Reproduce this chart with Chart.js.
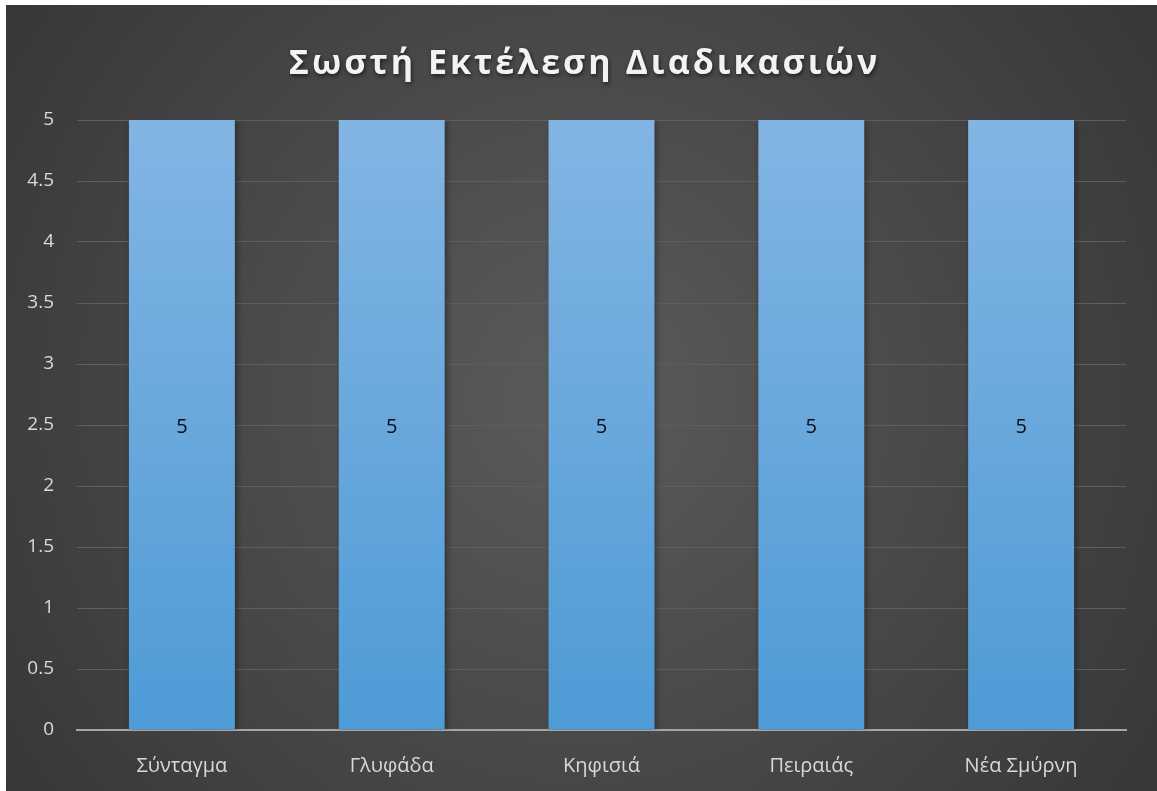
<!DOCTYPE html>
<html>
<head>
<meta charset="utf-8">
<script src="https://cdn.jsdelivr.net/npm/chart.js@4"></script>
<style>
  html, body { margin: 0; padding: 0; background: #ffffff; }
  #wrap { position: absolute; left: 6px; top: 5px; width: 1151px; height: 786px; }
</style>
</head>
<body>
<div id="wrap"><canvas id="procedures"></canvas></div>
<script>
const branches = ['Σύνταγμα', 'Γλυφάδα', 'Κηφισιά', 'Πειραιάς', 'Νέα Σμύρνη'];
const correctRuns = [5, 5, 5, 5, 5];
const chartTitle = 'Σωστή Εκτέλεση Διαδικασιών';

const FONT = '"Open Sans", "Noto Sans", sans-serif';

// dark panel with a soft light spot in the middle
const backdrop = {
  id: 'backdrop',
  beforeDraw(chart) {
    const { ctx, width, height } = chart;
    const g = ctx.createRadialGradient(width / 2, height / 2, 0, width / 2, height / 2, width * 0.62);
    g.addColorStop(0, '#5b5b5b');
    g.addColorStop(1, '#363636');
    ctx.save();
    ctx.fillStyle = g;
    ctx.fillRect(0, 0, width, height);
    ctx.restore();
  }
};

// spaced-out title with a drop shadow
const heading = {
  id: 'heading',
  afterDraw(chart) {
    const { ctx, width } = chart;
    ctx.save();
    ctx.font = 'bold 34px ' + FONT;
    ctx.letterSpacing = '3px';
    ctx.textAlign = 'center';
    ctx.textBaseline = 'middle';
    ctx.shadowColor = 'rgba(0,0,0,0.6)';
    ctx.shadowBlur = 4;
    ctx.shadowOffsetX = 1;
    ctx.shadowOffsetY = 2;
    ctx.fillStyle = '#f2f2f2';
    ctx.fillText(chartTitle, width / 2 + 3, 59);
    ctx.restore();
  }
};

// shadow behind the bars
const barShadow = {
  id: 'barShadow',
  beforeDatasetDraw(chart) {
    const ctx = chart.ctx;
    ctx.save();
    ctx.shadowColor = 'rgba(0,0,0,0.45)';
    ctx.shadowBlur = 7;
    ctx.shadowOffsetX = 2;
    ctx.shadowOffsetY = 1;
  },
  afterDatasetDraw(chart) {
    chart.ctx.restore();
  }
};

// value printed in the middle of each bar
const valueLabels = {
  id: 'valueLabels',
  afterDatasetsDraw(chart) {
    const { ctx } = chart;
    const yScale = chart.scales.y;
    const meta = chart.getDatasetMeta(0);
    ctx.save();
    ctx.font = '20px ' + FONT;
    ctx.fillStyle = '#0d0d0d';
    ctx.textAlign = 'center';
    ctx.textBaseline = 'middle';
    meta.data.forEach((bar, i) => {
      const v = correctRuns[i];
      const mid = yScale.getPixelForValue(v / 2);
      ctx.fillText(String(v), bar.x, mid + 2);
    });
    ctx.restore();
  }
};

function barFill(context) {
  const area = context.chart.chartArea;
  if (!area) return '#5b9bd5';
  const g = context.chart.ctx.createLinearGradient(0, area.top, 0, area.bottom);
  g.addColorStop(0, '#83b5e4');
  g.addColorStop(1, '#4e9bd6');
  return g;
}

new Chart(document.getElementById('procedures'), {
  type: 'bar',
  data: {
    labels: branches,
    datasets: [{
      data: correctRuns,
      backgroundColor: barFill,
      borderWidth: 0,
      categoryPercentage: 1,
      barPercentage: 0.505
    }]
  },
  options: {
    responsive: true,
    maintainAspectRatio: false,
    animation: false,
    layout: { padding: { left: 0, right: 31, top: 115, bottom: 0 } },
    plugins: {
      legend: { display: false },
      tooltip: { enabled: false }
    },
    scales: {
      x: {
        afterFit(scale) { scale.height = 61; },
        grid: { display: false, drawTicks: false },
        border: { color: '#a6a6a6', width: 2 },
        ticks: { color: '#d9d9d9', font: { family: FONT, size: 20 }, padding: 24 }
      },
      y: {
        min: 0,
        max: 5,
        afterFit(scale) { scale.width = 71; },
        grid: { color: '#5e5e5e', lineWidth: 1, drawTicks: false },
        border: { display: false },
        ticks: {
          stepSize: 0.5,
          color: '#d9d9d9',
          font: { family: FONT, size: 19 },
          padding: 23,
          callback: (v) => String(v)
        }
      }
    }
  },
  plugins: [backdrop, barShadow, valueLabels, heading]
});
</script>
</body>
</html>
